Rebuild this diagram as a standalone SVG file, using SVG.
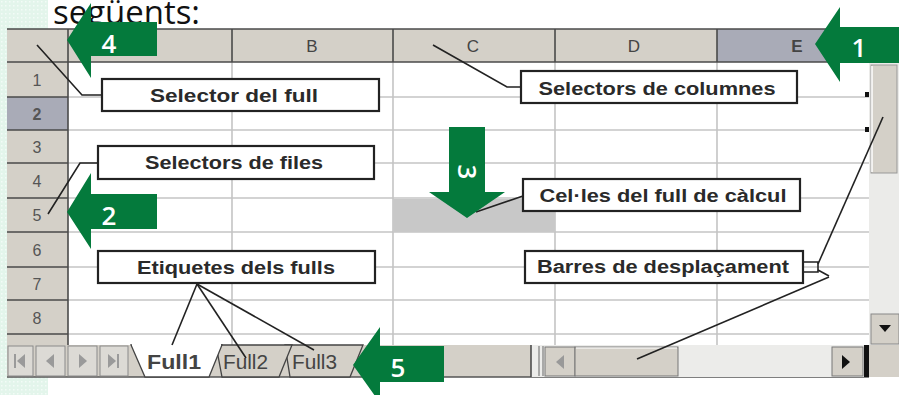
<svg xmlns="http://www.w3.org/2000/svg" width="899" height="395" viewBox="0 0 899 395">
<defs>
<pattern id="dots" width="4" height="4" patternUnits="userSpaceOnUse">
<rect width="4" height="4" fill="#e3f5eb"/>
<rect x="1" y="1" width="1.5" height="1.5" fill="#f3fbf7"/>
</pattern>
<style>
.hdr{fill:#d4d0c8}
.hl{fill:#a9abb7}
.sep{stroke:#4a4a4a;stroke-width:1.6}
.grid{stroke:#c4c4c4;stroke-width:1.6}
.lead{stroke:#222;stroke-width:1.6;fill:none}
.box{fill:#fff;stroke:#222;stroke-width:2.2}
.lbl{font-family:"Liberation Sans",Arial,sans-serif;font-weight:bold;font-size:18px;fill:#2a2a2a;text-anchor:middle}
.rh{font-family:"Liberation Sans",Arial,sans-serif;font-size:16px;fill:#555;text-anchor:middle}
.ch{font-family:"Liberation Sans",Arial,sans-serif;font-size:17px;fill:#444;text-anchor:middle}
.tab{font-family:"Liberation Sans",Arial,sans-serif;font-size:20px;fill:#444}
.arr{fill:#047a3c}
.num{font-family:"Open Sans","Liberation Sans",sans-serif;font-weight:600;font-size:26px;fill:#fff;text-anchor:middle}
.btn{fill:#dcdad5;stroke:#8a8a8a;stroke-width:1}
</style>
</defs>
<rect width="899" height="395" fill="#fff"/>
<rect x="0" y="0" width="48" height="395" fill="url(#dots)"/>
<text x="53" y="24" font-family="'Open Sans','Liberation Sans',sans-serif" font-size="32" fill="#111" textLength="147" lengthAdjust="spacingAndGlyphs">següents:</text>

<g id="sheet">
<rect x="7" y="29" width="892" height="348" fill="#fff"/>
<rect class="hdr" x="7" y="29" width="710" height="33"/>
<rect class="hl" x="717" y="29" width="182" height="33"/>
<rect class="hdr" x="7" y="62" width="61" height="283"/>
<rect class="hl" x="7" y="97" width="61" height="33"/>
<g class="grid">
<line x1="68" y1="97" x2="869" y2="97"/>
<line x1="68" y1="130" x2="869" y2="130"/>
<line x1="68" y1="163" x2="869" y2="163"/>
<line x1="68" y1="198" x2="869" y2="198"/>
<line x1="68" y1="232" x2="869" y2="232"/>
<line x1="68" y1="267" x2="869" y2="267"/>
<line x1="68" y1="300" x2="869" y2="300"/>
<line x1="68" y1="334" x2="869" y2="334"/>
<line x1="232" y1="62" x2="232" y2="345"/>
<line x1="393" y1="62" x2="393" y2="345"/>
<line x1="555" y1="62" x2="555" y2="345"/>
<line x1="717" y1="62" x2="717" y2="345"/>
</g>
<rect x="393" y="199" width="162" height="33" fill="#c8c8c8"/>
<g class="sep">
<line x1="7" y1="29" x2="899" y2="29"/>
<line x1="7" y1="62" x2="899" y2="62"/>
<line x1="68" y1="29" x2="68" y2="345"/>
<line x1="232" y1="29" x2="232" y2="62"/>
<line x1="393" y1="29" x2="393" y2="62"/>
<line x1="555" y1="29" x2="555" y2="62"/>
<line x1="717" y1="29" x2="717" y2="62"/>
<line x1="7" y1="97" x2="68" y2="97"/>
<line x1="7" y1="130" x2="68" y2="130"/>
<line x1="7" y1="163" x2="68" y2="163"/>
<line x1="7" y1="198" x2="68" y2="198"/>
<line x1="7" y1="232" x2="68" y2="232"/>
<line x1="7" y1="267" x2="68" y2="267"/>
<line x1="7" y1="300" x2="68" y2="300"/>
<line x1="7" y1="334" x2="68" y2="334"/>
</g>
<text class="ch" x="312" y="52">B</text>
<text class="ch" x="473" y="52">C</text>
<text class="ch" x="634" y="52">D</text>
<text class="ch" x="797" y="52" font-weight="bold" fill="#222">E</text>
<text class="rh" x="37" y="86">1</text>
<text class="rh" x="37" y="120" font-weight="bold" fill="#222">2</text>
<text class="rh" x="37" y="153">3</text>
<text class="rh" x="37" y="187">4</text>
<text class="rh" x="37" y="221">5</text>
<text class="rh" x="37" y="256">6</text>
<text class="rh" x="37" y="290">7</text>
<text class="rh" x="37" y="324">8</text>
<rect x="865" y="92" width="4" height="5" fill="#111"/>
<rect x="865" y="127" width="4" height="5" fill="#111"/>

<rect x="869" y="63" width="30" height="282" fill="#ebebe9"/>
<rect x="871" y="65" width="26" height="108" fill="#d4d0c8" stroke="#999" stroke-width="1"/>
<line x1="872" y1="66" x2="872" y2="172" stroke="#fff" stroke-width="1.5"/>
<rect x="871" y="314" width="28" height="30" fill="#d4d0c8" stroke="#888" stroke-width="1"/>
<polygon points="879,325 891,325 885,332" fill="#111"/>

<rect x="7" y="345" width="892" height="32" fill="#d4d0c8"/>
<line x1="7" y1="377" x2="869" y2="377" stroke="#555" stroke-width="1.5"/>
<rect class="btn" x="8" y="346" width="25" height="30"/>
<rect class="btn" x="36" y="346" width="29" height="30"/>
<rect class="btn" x="68" y="346" width="29" height="30"/>
<rect class="btn" x="100" y="346" width="28" height="30"/>
<g fill="#9a9a9a">
<rect x="14" y="354" width="2" height="14"/><polygon points="25,354 25,368 17,361"/>
<polygon points="54,354 54,368 46,361"/>
<polygon points="79,354 79,368 87,361"/>
<polygon points="108,354 108,368 116,361"/><rect x="117" y="354" width="2" height="14"/>
</g>
<polygon points="285,345 363,345 350,377 290,377" fill="#d4d0c8" stroke="#444" stroke-width="1.3"/>
<polygon points="216,345 292,345 279,377 222,377" fill="#d4d0c8" stroke="#444" stroke-width="1.3"/>
<polygon points="131,345 222,345 209,377 145,377" fill="#fff" stroke="#444" stroke-width="1.3"/>
<line x1="132" y1="345" x2="221" y2="345" stroke="#fff" stroke-width="2"/>
<text class="tab" x="147" y="369" font-weight="bold" fill="#1a2a40" textLength="54" lengthAdjust="spacingAndGlyphs">Full1</text>
<text class="tab" x="223" y="369" textLength="45" lengthAdjust="spacingAndGlyphs">Full2</text>
<text class="tab" x="292" y="369" textLength="45" lengthAdjust="spacingAndGlyphs">Full3</text>

<rect x="531" y="345" width="338" height="32" fill="#ececea"/>
<line x1="531" y1="345" x2="531" y2="377" stroke="#444" stroke-width="1.5"/>
<line x1="539" y1="346" x2="539" y2="376" stroke="#666" stroke-width="1"/>
<line x1="543" y1="346" x2="543" y2="376" stroke="#666" stroke-width="1"/>
<rect x="545" y="347" width="30" height="29" fill="#d4d0c8" stroke="#777" stroke-width="1"/>
<polygon points="564,355 564,369 556,362" fill="#999"/>
<rect x="575" y="347" width="103" height="29" fill="#d4d0c8" stroke="#777" stroke-width="1"/>
<line x1="576" y1="348" x2="677" y2="348" stroke="#fff" stroke-width="1"/>
<rect x="832" y="347" width="31" height="29" fill="#d4d0c8" stroke="#777" stroke-width="1"/>
<polygon points="842,355 842,369 850,362" fill="#111"/>
<rect x="864" y="345" width="5" height="32" fill="#111"/>
<rect x="869" y="345" width="30" height="32" fill="#d4d0c8"/>
</g>

<g id="connectors">
<polyline class="lead" points="37,45 82,95 101,95"/>
<polyline class="lead" points="433,45 507,87 521,87"/>
<polyline class="lead" points="48,214 80,163 98,163"/>
<line class="lead" x1="476" y1="212" x2="523" y2="196"/>
<line class="lead" x1="197" y1="284" x2="172" y2="345"/>
<line class="lead" x1="197" y1="284" x2="246" y2="358"/>
<line class="lead" x1="197" y1="284" x2="314" y2="350"/>
<polyline class="lead" points="803,262 818,262 818,272 803,272"/>
<line class="lead" x1="818" y1="264" x2="883" y2="117"/>
<line class="lead" x1="818" y1="270" x2="829" y2="276"/>
<line class="lead" x1="829" y1="277" x2="637" y2="359"/>
</g>

<g id="label-selector-full"><rect class="box" x="102" y="79" width="277" height="32"/><text class="lbl" x="234" y="102" textLength="168" lengthAdjust="spacingAndGlyphs">Selector del full</text></g>
<g id="label-selectors-columnes"><rect class="box" x="521" y="71" width="276" height="32"/><text class="lbl" x="657" y="95" textLength="237" lengthAdjust="spacingAndGlyphs">Selectors de columnes</text></g>
<g id="label-selectors-files"><rect class="box" x="98" y="146" width="276" height="33"/><text class="lbl" x="234" y="169" textLength="178" lengthAdjust="spacingAndGlyphs">Selectors de files</text></g>
<g id="label-celles"><rect class="box" x="523" y="179" width="277" height="32"/><text class="lbl" x="663" y="202" textLength="247" lengthAdjust="spacingAndGlyphs">Cel·les del full de càlcul</text></g>
<g id="label-etiquetes"><rect class="box" x="98" y="251" width="277" height="32"/><text class="lbl" x="236" y="274" textLength="198" lengthAdjust="spacingAndGlyphs">Etiquetes dels fulls</text></g>
<g id="label-barres"><rect class="box" x="525" y="251" width="278" height="32"/><text class="lbl" x="663" y="273" textLength="252" lengthAdjust="spacingAndGlyphs">Barres de desplaçament</text></g>

<g id="arrow-1"><polygon class="arr" points="815,44 840,7 840,27 899,27 899,63 840,63 840,82"/><text class="num" x="859" y="57">1</text></g>
<g id="arrow-4"><polygon class="arr" points="67,40 91,3 91,22 157,22 157,56 91,56 91,78"/><text class="num" x="109" y="53">4</text></g>
<g id="arrow-2"><polygon class="arr" points="67,212 91,173 91,194 157,194 157,229 91,229 91,249"/><text class="num" x="109" y="225">2</text></g>
<g id="arrow-5"><polygon class="arr" points="353,365 380,327 380,346 444,346 444,382 380,382 380,403"/><text class="num" x="398" y="377">5</text></g>
<g id="arrow-3"><polygon class="arr" points="449,127 485,127 485,192 505,192 467,218 429,192 449,192"/><text class="num" transform="translate(458,172) rotate(90)">3</text></g>
</svg>
